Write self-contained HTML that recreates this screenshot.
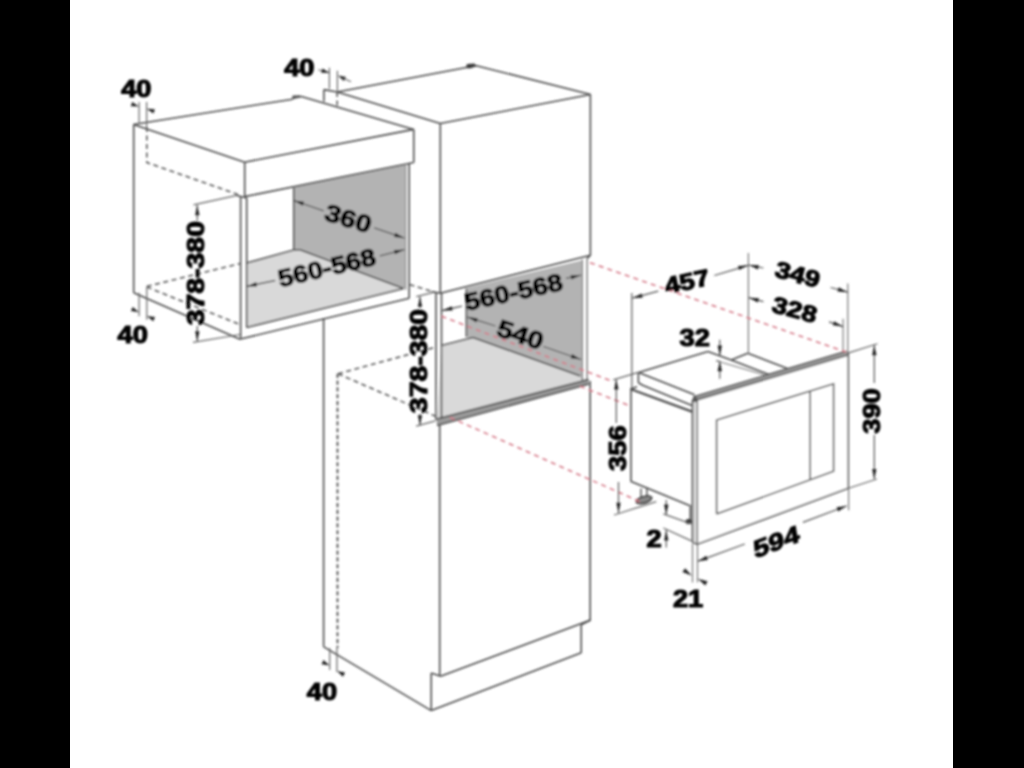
<!DOCTYPE html>
<html><head><meta charset="utf-8"><style>
html,body{margin:0;padding:0;background:#000;}
body{width:1024px;height:768px;overflow:hidden;position:relative;}
svg{position:absolute;left:0;top:0;}
text{font-family:"Liberation Sans",sans-serif;font-weight:bold;fill:#000;}
</style></head><body>
<svg width="1024" height="768" viewBox="0 0 1024 768">
<rect x="0" y="0" width="1024" height="768" fill="#000"/>
<defs><filter id="b" filterUnits="userSpaceOnUse" x="0" y="0" width="1024" height="768"><feGaussianBlur stdDeviation="0.8"/></filter></defs>
<rect x="70" y="0" width="883" height="768" fill="#fff"/>
<g filter="url(#b)">
<polygon points="293.75,187 406,164 406,289 293.75,250" fill="#b3b3b3" stroke="none" stroke-width="0"/>
<polygon points="246.6,263 293.75,250 300,249.8 404,288.5 246.6,327.5" fill="#d9d9d9" stroke="none" stroke-width="0"/>
<polygon points="466.4,288 581.5,260.5 581.5,376.5 466.6,336.9" fill="#b3b3b3" stroke="none" stroke-width="0"/>
<polygon points="441.5,345.5 466.8,338.6 473,337.5 580.5,376 588,380.5 436.5,421" fill="#d9d9d9" stroke="none" stroke-width="0"/>
<polygon points="436.5,419 588.5,379.5 589,384 437,425.5" fill="#9a9a9a" stroke="none" stroke-width="0"/>
<line x1="133.5" y1="124.5" x2="292.5" y2="99.2" stroke="#4d4d4d" stroke-width="1.6"/>
<polygon points="291.8,99.8 292.6,95.6 300,95.2 301.2,97.6 296,98.6" fill="#555" stroke="none" stroke-width="0"/>
<line x1="300.5" y1="96.2" x2="413.75" y2="129.4" stroke="#4d4d4d" stroke-width="1.6"/>
<line x1="133.5" y1="124.5" x2="244.7" y2="162.2" stroke="#4d4d4d" stroke-width="1.6"/>
<line x1="244.7" y1="162.2" x2="413.75" y2="129.4" stroke="#4d4d4d" stroke-width="1.6"/>
<line x1="413.75" y1="129.4" x2="413.75" y2="162.5" stroke="#4d4d4d" stroke-width="1.6"/>
<line x1="244.7" y1="162.2" x2="244.7" y2="196.6" stroke="#4d4d4d" stroke-width="1.6"/>
<line x1="244.7" y1="196.6" x2="413.75" y2="162.5" stroke="#4d4d4d" stroke-width="1.6"/>
<line x1="133.7" y1="124.5" x2="133.7" y2="292.7" stroke="#4d4d4d" stroke-width="1.6"/>
<line x1="133.7" y1="292.7" x2="240.5" y2="339.5" stroke="#4d4d4d" stroke-width="1.6"/>
<line x1="240.6" y1="196" x2="240.6" y2="339" stroke="#4d4d4d" stroke-width="1.6"/>
<line x1="246.7" y1="198" x2="246.7" y2="327.5" stroke="#4d4d4d" stroke-width="1.6"/>
<line x1="236.9" y1="195.4" x2="246.7" y2="198" stroke="#4d4d4d" stroke-width="1.6"/>
<line x1="240.6" y1="339" x2="409.2" y2="298.3" stroke="#4d4d4d" stroke-width="1.6"/>
<line x1="246.7" y1="327.5" x2="403.6" y2="288.5" stroke="#4d4d4d" stroke-width="1.6"/>
<line x1="409.2" y1="163" x2="409.2" y2="298.3" stroke="#4d4d4d" stroke-width="1.6"/>
<line x1="405.8" y1="164" x2="405.8" y2="290" stroke="#8a8a8a" stroke-width="1.2"/>
<line x1="293.75" y1="188" x2="293.75" y2="250" stroke="#4d4d4d" stroke-width="1.6"/>
<line x1="300" y1="249.8" x2="403.6" y2="288.5" stroke="#4d4d4d" stroke-width="1.6"/>
<line x1="246.7" y1="263" x2="293.75" y2="250" stroke="#4d4d4d" stroke-width="1.6"/>
<line x1="293.75" y1="250" x2="300" y2="249.8" stroke="#4d4d4d" stroke-width="1.6"/>
<polyline points="146.8,127 146.8,162.5 238,194.5" fill="none" stroke="#5a5a5a" stroke-width="1.6" stroke-dasharray="5,3.5"/>
<line x1="146.8" y1="286.4" x2="240.5" y2="263.5" stroke="#5a5a5a" stroke-width="1.6" stroke-dasharray="5,3.5"/>
<line x1="146.8" y1="287" x2="240" y2="324.6" stroke="#5a5a5a" stroke-width="1.6" stroke-dasharray="5,3.5"/>
<line x1="409.5" y1="284.5" x2="433.5" y2="292" stroke="#5a5a5a" stroke-width="1.6" stroke-dasharray="5,3.5"/>
<line x1="323.9" y1="89.6" x2="337.2" y2="92" stroke="#4d4d4d" stroke-width="1.6"/>
<line x1="337.2" y1="92" x2="475.5" y2="65.8" stroke="#4d4d4d" stroke-width="1.6"/>
<line x1="475.5" y1="65.5" x2="590.5" y2="94.5" stroke="#4d4d4d" stroke-width="1.6"/>
<line x1="337.2" y1="92" x2="440.3" y2="123.5" stroke="#4d4d4d" stroke-width="1.6"/>
<line x1="440.3" y1="123.5" x2="590.5" y2="94.5" stroke="#4d4d4d" stroke-width="1.6"/>
<line x1="323.9" y1="89.6" x2="323.9" y2="101.5" stroke="#4d4d4d" stroke-width="1.6"/>
<line x1="337.2" y1="92" x2="337.2" y2="106.8" stroke="#5a5a5a" stroke-width="1.6" stroke-dasharray="5,3.5"/>
<line x1="590.4" y1="94.5" x2="590.4" y2="255.3" stroke="#4d4d4d" stroke-width="1.6"/>
<line x1="590.2" y1="381" x2="590.2" y2="620" stroke="#4d4d4d" stroke-width="1.6"/>
<line x1="440.3" y1="123.5" x2="440.3" y2="293.2" stroke="#4d4d4d" stroke-width="1.6"/>
<line x1="440.3" y1="293.2" x2="590.4" y2="255.3" stroke="#4d4d4d" stroke-width="1.6"/>
<line x1="590.4" y1="255.3" x2="587" y2="258.6" stroke="#4d4d4d" stroke-width="1.6"/>
<line x1="436" y1="292.4" x2="436" y2="420" stroke="#4d4d4d" stroke-width="1.6"/>
<line x1="441.5" y1="293" x2="441.5" y2="419" stroke="#4d4d4d" stroke-width="1.6"/>
<line x1="431.7" y1="291.6" x2="440.3" y2="293.2" stroke="#4d4d4d" stroke-width="1.6"/>
<line x1="582.2" y1="259.5" x2="582.2" y2="380.5" stroke="#777" stroke-width="1.4"/>
<line x1="587.1" y1="258.6" x2="587.1" y2="381" stroke="#777" stroke-width="1.4"/>
<line x1="466.4" y1="288.6" x2="466.4" y2="336.9" stroke="#4d4d4d" stroke-width="1.6"/>
<line x1="473" y1="337.5" x2="580.3" y2="375.9" stroke="#4d4d4d" stroke-width="1.6"/>
<line x1="441.5" y1="345.5" x2="473" y2="337.5" stroke="#4d4d4d" stroke-width="1.6"/>
<line x1="436.5" y1="419" x2="588.5" y2="379.5" stroke="#4d4d4d" stroke-width="1.6"/>
<line x1="437" y1="425.5" x2="589" y2="384" stroke="#4d4d4d" stroke-width="1.6"/>
<line x1="323.6" y1="318" x2="323.6" y2="646.6" stroke="#4d4d4d" stroke-width="1.6"/>
<line x1="337.5" y1="373.75" x2="337.5" y2="648" stroke="#454545" stroke-width="1.7" stroke-dasharray="4.2,2.6"/>
<line x1="338" y1="373.75" x2="434.8" y2="347.4" stroke="#5a5a5a" stroke-width="1.6" stroke-dasharray="5,3.5"/>
<line x1="338" y1="373.75" x2="436.7" y2="416.7" stroke="#5a5a5a" stroke-width="1.6" stroke-dasharray="5,3.5"/>
<line x1="439.7" y1="425" x2="439.7" y2="676.25" stroke="#4d4d4d" stroke-width="1.6"/>
<line x1="440.6" y1="676.25" x2="590.6" y2="620" stroke="#4d4d4d" stroke-width="1.6"/>
<line x1="431.25" y1="673" x2="431.25" y2="710.6" stroke="#4d4d4d" stroke-width="1.6"/>
<line x1="431.25" y1="673" x2="440.6" y2="676.25" stroke="#4d4d4d" stroke-width="1.6"/>
<line x1="323.4" y1="646.6" x2="431.25" y2="710.6" stroke="#4d4d4d" stroke-width="1.6"/>
<line x1="431.25" y1="710.6" x2="581.25" y2="652.8" stroke="#4d4d4d" stroke-width="1.6"/>
<line x1="581.25" y1="624.7" x2="581.25" y2="652.8" stroke="#4d4d4d" stroke-width="1.6"/>
<line x1="581.25" y1="624.7" x2="590.6" y2="620" stroke="#4d4d4d" stroke-width="1.6"/>
<line x1="638.6" y1="372.6" x2="707.9" y2="351.6" stroke="#4d4d4d" stroke-width="1.6"/>
<line x1="707.9" y1="351.6" x2="731.2" y2="359.9" stroke="#4d4d4d" stroke-width="1.6"/>
<line x1="731.2" y1="359.9" x2="747.8" y2="353.3" stroke="#4d4d4d" stroke-width="1.6"/>
<line x1="747.8" y1="353.3" x2="790" y2="369.5" stroke="#4d4d4d" stroke-width="1.6"/>
<line x1="731.2" y1="359.9" x2="770" y2="375" stroke="#4d4d4d" stroke-width="1.6"/>
<line x1="716.2" y1="360.75" x2="764.4" y2="374.9" stroke="#888" stroke-width="1.3"/>
<line x1="638.6" y1="372.6" x2="694.6" y2="394.8" stroke="#4d4d4d" stroke-width="1.6"/>
<line x1="638.4" y1="372.6" x2="638.4" y2="382.8" stroke="#4d4d4d" stroke-width="1.6"/>
<polyline points="638.4,382.8 642.7,385.2 692,405.4" fill="none" stroke="#4d4d4d" stroke-width="1.6"/>
<line x1="631.8" y1="293" x2="631.8" y2="388" stroke="#666" stroke-width="1.3"/>
<line x1="631" y1="388" x2="631" y2="481.25" stroke="#4d4d4d" stroke-width="1.6"/>
<polyline points="631,389.3 692,411.6" fill="none" stroke="#4d4d4d" stroke-width="2.2"/>
<line x1="631" y1="389" x2="637" y2="386.8" stroke="#4d4d4d" stroke-width="1.6"/>
<line x1="630.5" y1="481.25" x2="691.25" y2="506.25" stroke="#4d4d4d" stroke-width="1.6"/>
<line x1="641" y1="488.5" x2="641" y2="498.5" stroke="#4d4d4d" stroke-width="1.4"/>
<line x1="646.9" y1="487.5" x2="646.9" y2="498.5" stroke="#4d4d4d" stroke-width="1.4"/>
<ellipse cx="644" cy="499.8" rx="8" ry="3.2" transform="rotate(-16 644 499.8)" fill="#888" stroke="#333" stroke-width="1.6"/>
<line x1="690.3" y1="507" x2="690.3" y2="522" stroke="#4d4d4d" stroke-width="1.6"/>
<ellipse cx="688.6" cy="521.6" rx="3.2" ry="2.6" fill="#333"/>
<polygon points="697.3,399.5 848.3,353 848.3,488.3 697.3,544.2" fill="#ffffff" stroke="#4d4d4d" stroke-width="1.6"/>
<line x1="692.6" y1="400" x2="692.6" y2="542.5" stroke="#4d4d4d" stroke-width="1.6"/>
<polygon points="692.6,400 697.3,399.5 697.3,544.2 692.6,542.5" fill="#e4e4e4" stroke="none" stroke-width="0"/>
<line x1="692.6" y1="400" x2="692.6" y2="542.5" stroke="#4d4d4d" stroke-width="1.6"/>
<line x1="697.3" y1="399.5" x2="697.3" y2="544.2" stroke="#666" stroke-width="1.4"/>
<line x1="692.6" y1="542.5" x2="697.3" y2="544.2" stroke="#4d4d4d" stroke-width="1.4"/>
<polygon points="693.3,396.8 846.5,351.2 847.5,355.4 693.5,401" fill="#9a9a9a" stroke="none" stroke-width="0"/>
<line x1="693.3" y1="396.8" x2="846.5" y2="351.2" stroke="#4d4d4d" stroke-width="1.4"/>
<line x1="693.5" y1="401" x2="847.5" y2="355.4" stroke="#4d4d4d" stroke-width="1.4"/>
<circle cx="695" cy="399.6" r="2.6" fill="#555"/>
<polyline points="716.6,514 716.6,420 833.6,383.8 833.6,471.25 716.6,514" fill="none" stroke="#4d4d4d" stroke-width="1.6"/>
<line x1="810.2" y1="391.5" x2="810.2" y2="479.6" stroke="#4d4d4d" stroke-width="1.6"/>
<line x1="848.6" y1="488.3" x2="848.6" y2="510.3" stroke="#777" stroke-width="1.2"/>
<line x1="847.8" y1="283.6" x2="847.8" y2="352.6" stroke="#777" stroke-width="1.2"/>
<line x1="843.1" y1="318.75" x2="843.1" y2="351" stroke="#777" stroke-width="1.2"/>
<line x1="748.4" y1="253" x2="748.4" y2="353.3" stroke="#777" stroke-width="1.2"/>
<line x1="590" y1="262.7" x2="846" y2="352" stroke="#d57a88" stroke-width="1.6" stroke-dasharray="5,4.2"/>
<line x1="441.5" y1="316.3" x2="610" y2="380.5" stroke="#d57a88" stroke-width="1.6" stroke-dasharray="5,4.2"/>
<line x1="580" y1="386.3" x2="631" y2="406.3" stroke="#d57a88" stroke-width="1.6" stroke-dasharray="5,4.2"/>
<line x1="450" y1="417.4" x2="641" y2="502.2" stroke="#d57a88" stroke-width="1.6" stroke-dasharray="5,4.2"/>
<line x1="139.1" y1="102" x2="139.1" y2="124" stroke="#666" stroke-width="1.2"/>
<line x1="146.6" y1="102" x2="146.6" y2="127" stroke="#666" stroke-width="1.2"/>
<polygon points="139.1,106.6 130.78,106.29 132.21,101.92" fill="#222"/>
<polygon points="146.6,108.8 154.91,109.19 153.44,113.55" fill="#222"/>
<line x1="318.3" y1="69.7" x2="329.4" y2="72.8" stroke="#666" stroke-width="1.1"/>
<line x1="329.4" y1="67.7" x2="329.4" y2="88.8" stroke="#666" stroke-width="1.2"/>
<line x1="337.4" y1="70.8" x2="337.4" y2="92" stroke="#666" stroke-width="1.2"/>
<polygon points="329.4,72.8 321.08,72.81 322.34,68.39" fill="#222"/>
<polygon points="337.8,75.5 346.00,76.94 343.98,81.07" fill="#222"/>
<line x1="344" y1="78.5" x2="351" y2="81.8" stroke="#666" stroke-width="1.1"/>
<polygon points="465.8,68 467,64 474.5,63.6 476.5,66.2 470,68.4" fill="#3a3a3a" stroke="none" stroke-width="0"/>
<line x1="139.1" y1="292.7" x2="139.1" y2="316.3" stroke="#666" stroke-width="1.2"/>
<line x1="146.8" y1="287" x2="146.8" y2="319.8" stroke="#666" stroke-width="1.2"/>
<polygon points="139.1,312.3 130.86,311.11 132.75,306.91" fill="#222"/>
<polygon points="146.8,316 155.06,317.04 153.25,321.27" fill="#222"/>
<line x1="329.7" y1="648" x2="329.7" y2="670" stroke="#666" stroke-width="1.2"/>
<line x1="336.9" y1="648" x2="336.9" y2="672" stroke="#666" stroke-width="1.2"/>
<polygon points="329.7,665.5 321.49,664.14 323.47,659.98" fill="#222"/>
<polygon points="336.9,671 345.08,672.57 342.99,676.67" fill="#222"/>
<line x1="197.3" y1="205" x2="197.3" y2="220.4" stroke="#555" stroke-width="1.2"/>
<line x1="197.3" y1="325.9" x2="197.3" y2="341.5" stroke="#555" stroke-width="1.2"/>
<polygon points="197.3,205.2 199.50,215.20 195.10,215.20" fill="#222"/>
<polygon points="197.3,341.2 195.10,331.20 199.50,331.20" fill="#222"/>
<line x1="193.5" y1="204.8" x2="236.9" y2="195.4" stroke="#666" stroke-width="1.2"/>
<line x1="193" y1="342.3" x2="240" y2="334.5" stroke="#666" stroke-width="1.2"/>
<line x1="293.7" y1="200.5" x2="323.7" y2="210.8" stroke="#555" stroke-width="1.3"/>
<line x1="374.3" y1="227.9" x2="404.4" y2="238.1" stroke="#555" stroke-width="1.3"/>
<polygon points="293.9,200.5 304.08,201.64 302.66,205.81" fill="#222"/>
<polygon points="404.2,238 394.02,236.89 395.43,232.72" fill="#222"/>
<line x1="246.6" y1="286.4" x2="275.2" y2="280.5" stroke="#555" stroke-width="1.3"/>
<line x1="379.8" y1="255.9" x2="404.4" y2="249.7" stroke="#555" stroke-width="1.3"/>
<polygon points="246.8,286.4 256.10,282.11 257.04,286.40" fill="#222"/>
<polygon points="404.2,249.7 395.01,254.21 393.96,249.93" fill="#222"/>
<line x1="420" y1="296.6" x2="420" y2="308" stroke="#555" stroke-width="1.2"/>
<line x1="420" y1="414" x2="420" y2="425.5" stroke="#555" stroke-width="1.2"/>
<polygon points="420,296.8 422.20,306.80 417.80,306.80" fill="#222"/>
<polygon points="420,425.3 417.80,415.30 422.20,415.30" fill="#222"/>
<line x1="416.25" y1="296.7" x2="433.4" y2="292.4" stroke="#666" stroke-width="1.2"/>
<line x1="416.1" y1="426.2" x2="435.4" y2="420.8" stroke="#666" stroke-width="1.2"/>
<line x1="442.2" y1="310.5" x2="462" y2="306.1" stroke="#555" stroke-width="1.3"/>
<line x1="566" y1="278.3" x2="581" y2="275.2" stroke="#555" stroke-width="1.3"/>
<polygon points="442.4,310.5 451.68,306.18 452.64,310.48" fill="#222"/>
<polygon points="580.8,275.3 571.45,279.48 570.56,275.18" fill="#222"/>
<line x1="467.5" y1="317.1" x2="495.5" y2="326" stroke="#555" stroke-width="1.3"/>
<line x1="543.4" y1="346.5" x2="581" y2="359.5" stroke="#555" stroke-width="1.3"/>
<polygon points="467.6,317.1 477.76,318.36 476.29,322.51" fill="#222"/>
<polygon points="580.8,359.4 570.63,358.18 572.09,354.02" fill="#222"/>
<line x1="632.3" y1="298.1" x2="658.3" y2="291.2" stroke="#555" stroke-width="1.3"/>
<line x1="714.3" y1="275.5" x2="748.3" y2="265.3" stroke="#555" stroke-width="1.3"/>
<polygon points="632.5,298.1 641.63,293.46 642.73,297.72" fill="#222"/>
<polygon points="748.2,265.3 739.17,270.12 737.98,265.88" fill="#222"/>
<line x1="748.6" y1="265" x2="763.4" y2="268" stroke="#555" stroke-width="1.2"/>
<line x1="830.6" y1="287.5" x2="847.8" y2="292.2" stroke="#555" stroke-width="1.2"/>
<polygon points="748.8,265 759.04,265.29 757.97,269.56" fill="#222"/>
<polygon points="847.6,292.2 837.39,291.47 838.64,287.25" fill="#222"/>
<line x1="748.6" y1="297.7" x2="763.4" y2="301.6" stroke="#555" stroke-width="1.2"/>
<line x1="829" y1="321.9" x2="843.1" y2="326.6" stroke="#555" stroke-width="1.2"/>
<polygon points="748.8,297.7 759.02,298.35 757.80,302.58" fill="#222"/>
<polygon points="842.9,326.5 832.73,325.35 834.15,321.18" fill="#222"/>
<line x1="719.8" y1="339.8" x2="719.8" y2="355.4" stroke="#555" stroke-width="1.2"/>
<line x1="719.8" y1="361.25" x2="719.8" y2="378.8" stroke="#555" stroke-width="1.2"/>
<polygon points="719.8,355.4 717.60,345.40 722.00,345.40" fill="#222"/>
<polygon points="719.8,361.3 722.00,371.30 717.60,371.30" fill="#222"/>
<line x1="716.2" y1="360.75" x2="720.5" y2="361.5" stroke="#666" stroke-width="1.1"/>
<line x1="874.3" y1="345" x2="874.3" y2="383" stroke="#555" stroke-width="1.2"/>
<line x1="874.3" y1="435" x2="874.3" y2="479" stroke="#555" stroke-width="1.2"/>
<polygon points="874.3,345.2 876.50,355.20 872.10,355.20" fill="#222"/>
<polygon points="874.3,479 872.10,469.00 876.50,469.00" fill="#222"/>
<line x1="847.8" y1="353.1" x2="877.5" y2="343.75" stroke="#666" stroke-width="1.2"/>
<line x1="848.6" y1="488.3" x2="876.9" y2="479" stroke="#666" stroke-width="1.2"/>
<line x1="616.3" y1="379.4" x2="616.3" y2="423.1" stroke="#555" stroke-width="1.2"/>
<line x1="618.5" y1="482" x2="618.5" y2="513" stroke="#555" stroke-width="1.2"/>
<polygon points="616.3,379.6 618.50,389.60 614.10,389.60" fill="#222"/>
<polygon points="618.5,512.8 616.30,502.80 620.70,502.80" fill="#222"/>
<line x1="613.3" y1="379.8" x2="638.2" y2="372.4" stroke="#666" stroke-width="1.2"/>
<line x1="614" y1="515" x2="656.25" y2="501.6" stroke="#666" stroke-width="1.2"/>
<line x1="666.25" y1="500" x2="666.25" y2="515" stroke="#555" stroke-width="1.2"/>
<line x1="666.25" y1="530" x2="666.25" y2="547.5" stroke="#555" stroke-width="1.2"/>
<polygon points="666.25,514.5 664.05,504.50 668.45,504.50" fill="#222"/>
<polygon points="666.25,530.5 668.45,540.50 664.05,540.50" fill="#222"/>
<line x1="663.3" y1="513.9" x2="691.4" y2="523.9" stroke="#666" stroke-width="1.2"/>
<line x1="663.3" y1="528" x2="691.4" y2="540.9" stroke="#666" stroke-width="1.2"/>
<line x1="697.5" y1="561.4" x2="744.8" y2="544" stroke="#555" stroke-width="1.2"/>
<line x1="802.9" y1="522.4" x2="846.9" y2="505.8" stroke="#555" stroke-width="1.2"/>
<polygon points="697.7,561.3 706.31,555.76 707.84,559.89" fill="#222"/>
<polygon points="846.7,505.9 838.09,511.44 836.56,507.31" fill="#222"/>
<line x1="692.5" y1="544" x2="692.5" y2="582.5" stroke="#777" stroke-width="1.2"/>
<line x1="697.5" y1="544" x2="697.5" y2="582.5" stroke="#777" stroke-width="1.2"/>
<polygon points="692,575.8 682.41,572.08 685.15,568.13" fill="#222"/>
<polygon points="697.6,578.8 707.58,581.30 705.36,585.55" fill="#222"/>
<text transform="translate(136.3,89) rotate(0) skewY(0) scale(1.1844999999999999,1)" x="0" y="8.16" text-anchor="middle" font-size="23" stroke="#000" stroke-width="1.1">40</text>
<text transform="translate(299.35,67.9) rotate(0) skewY(0) scale(1.1844999999999999,1)" x="0" y="8.16" text-anchor="middle" font-size="23" stroke="#000" stroke-width="1.1">40</text>
<text transform="translate(132.7,334.8) rotate(0) skewY(0) scale(1.1844999999999999,1)" x="0" y="8.16" text-anchor="middle" font-size="23" stroke="#000" stroke-width="1.1">40</text>
<text transform="translate(321.9,691.5) rotate(0) skewY(0) scale(1.1844999999999999,1)" x="0" y="8.16" text-anchor="middle" font-size="23" stroke="#000" stroke-width="1.1">40</text>
<text transform="translate(195.9,273.2) rotate(-90) skewY(0) scale(1.1844999999999999,1)" x="0" y="8.52" text-anchor="middle" font-size="24" stroke="#000" stroke-width="1.1">378-380</text>
<text transform="translate(418.2,361) rotate(-90) skewY(0) scale(1.1844999999999999,1)" x="0" y="8.52" text-anchor="middle" font-size="24" stroke="#000" stroke-width="1.1">378-380</text>
<text transform="translate(348.4,218.3) rotate(17) skewY(0) scale(1.1844999999999999,1)" x="0" y="8.52" text-anchor="middle" font-size="24" stroke="#000" stroke-width="1.1">360</text>
<text transform="translate(326.8,267.4) rotate(-13.3) skewY(0) scale(1.1330000000000002,1)" x="0" y="8.52" text-anchor="middle" font-size="24" stroke="#000" stroke-width="1.1">560-568</text>
<text transform="translate(513.6,291.85) rotate(-12.3) skewY(0) scale(1.1330000000000002,1)" x="0" y="8.52" text-anchor="middle" font-size="24" stroke="#000" stroke-width="1.1">560-568</text>
<text transform="translate(520.5,334.5) rotate(18.5) skewY(0) scale(1.1844999999999999,1)" x="0" y="8.52" text-anchor="middle" font-size="24" stroke="#000" stroke-width="1.1">540</text>
<text transform="translate(687,281.35) rotate(-12) skewY(0) scale(1.1844999999999999,1)" x="0" y="8.16" text-anchor="middle" font-size="23" stroke="#000" stroke-width="1.1">457</text>
<text transform="translate(797.8,274.25) rotate(15) skewY(0) scale(1.1844999999999999,1)" x="0" y="8.16" text-anchor="middle" font-size="23" stroke="#000" stroke-width="1.1">349</text>
<text transform="translate(794.7,309.4) rotate(15) skewY(0) scale(1.1844999999999999,1)" x="0" y="8.16" text-anchor="middle" font-size="23" stroke="#000" stroke-width="1.1">328</text>
<text transform="translate(694.75,337.8) rotate(0) skewY(0) scale(1.1844999999999999,1)" x="0" y="8.16" text-anchor="middle" font-size="23" stroke="#000" stroke-width="1.1">32</text>
<text transform="translate(872,411) rotate(-90) skewY(0) scale(1.1844999999999999,1)" x="0" y="8.16" text-anchor="middle" font-size="23" stroke="#000" stroke-width="1.1">390</text>
<text transform="translate(617.5,448.15) rotate(-90) skewY(0) scale(1.1844999999999999,1)" x="0" y="8.16" text-anchor="middle" font-size="23" stroke="#000" stroke-width="1.1">356</text>
<text transform="translate(654,538.5) rotate(0) skewY(0) scale(1.1844999999999999,1)" x="0" y="8.16" text-anchor="middle" font-size="23" stroke="#000" stroke-width="1.1">2</text>
<text transform="translate(776.3,541.5) rotate(-9) skewY(-12) scale(1.1844999999999999,1)" x="0" y="8.52" text-anchor="middle" font-size="24" stroke="#000" stroke-width="1.1">594</text>
<text transform="translate(688.1,598.75) rotate(0) skewY(0) scale(1.1844999999999999,1)" x="0" y="8.16" text-anchor="middle" font-size="23" stroke="#000" stroke-width="1.1">21</text>
</g>
</svg>
</body></html>
